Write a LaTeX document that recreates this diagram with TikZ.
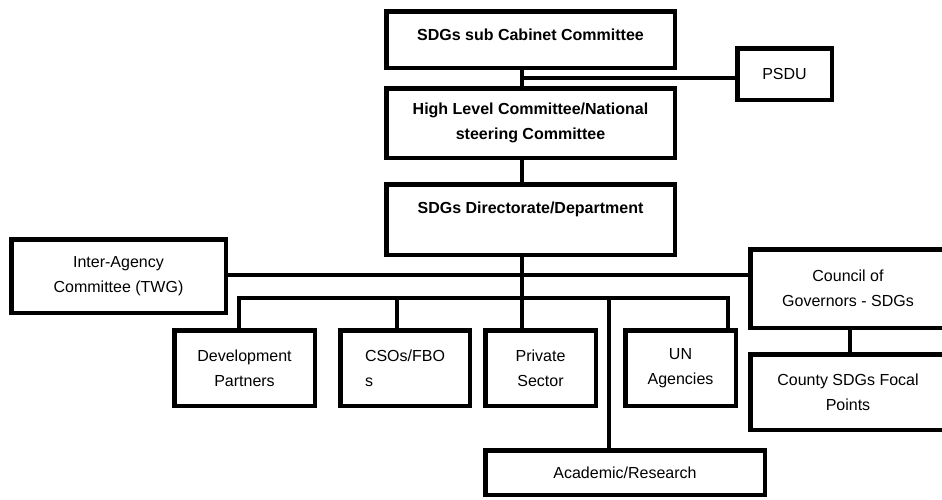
\documentclass[tikz,border=0pt]{standalone}
\usepackage{fontspec}
\setmainfont{Liberation Sans}
\begin{document}
\begin{tikzpicture}[x=1pt,y=-1pt,
  box/.style={draw, rectangle, line width=4.5pt, inner sep=0pt, align=center, fill=white,
    font=\fontsize{16}{25}\selectfont},
  hbox/.style={box, font=\fontsize{16}{25}\selectfont\bfseries},
  conn/.style={draw, line width=4.5pt, line join=miter}
]
\useasboundingbox (0,0) rectangle (942,499);
\clip (0,0) rectangle (942,499);

% boxes
\node[hbox, minimum width=288.5pt, minimum height=56.5pt, text height=12pt, text depth=9.6pt] (cab) at (530.5,39.5) {SDGs sub Cabinet Committee};
\node[box, minimum width=94.5pt, minimum height=51.5pt] (psdu) at (784.5,74) {PSDU};
\node[hbox, minimum width=288.5pt, minimum height=69.5pt] (hlc) at (530.5,123) {High Level Committee/National\\steering Committee};
\node[hbox, minimum width=288.5pt, minimum height=70.5pt, text height=12pt, text depth=24pt] (dir) at (530.5,219.5) {SDGs Directorate/Department};
\node[box, minimum width=214.5pt, minimum height=73.5pt] (iac) at (118.5,276) {Inter-Agency\\Committee (TWG)};
\node[box, minimum width=195.5pt, minimum height=78.5pt] (cog) at (848,288.5) {Council of\\Governors - SDGs};
\node[box, minimum width=195.5pt, minimum height=75.5pt] (cty) at (848,392) {County SDGs Focal\\Points};
\node[box, minimum width=140.5pt, minimum height=75.5pt] (dev) at (244.5,368) {Development\\Partners};
\node[box, minimum width=129.5pt, minimum height=75.5pt, align=left] (cso) at (405,368) {CSOs/FBO\\s};
\node[box, minimum width=110.5pt, minimum height=75.5pt] (prv) at (540.5,368) {Private\\Sector};
\node[box, minimum width=110.5pt, minimum height=75.5pt] (un) at (680.5,368) {UN\\Agencies};
\node[box, minimum width=279.5pt, minimum height=44.5pt] (aca) at (625,472.5) {Academic/Research};

% junction coordinates
\coordinate (sx) at (522,0);
\coordinate (jp) at (522,78);
\coordinate (jh) at (0,275);
\coordinate (bL) at (239,298);
\coordinate (bR) at (728,298);
\coordinate (bC) at (397,298);
\coordinate (bA) at (609,298);
\coordinate (cx) at (850,0);

% connectors
\path[conn] (cab.south -| sx) -- (hlc.north -| sx);
\path[conn] (jp) -- (jp -| psdu.west);
\path[conn] (hlc.south -| sx) -- (dir.north -| sx);
\path[conn] (dir.south -| sx) -- (prv.north -| sx);
\path[conn] (iac.east |- jh) -- (cog.west |- jh);
\path[conn] (dev.north -| bL) -- (bL) -- (bR) -- (un.north -| bR);
\path[conn] (bC) -- (cso.north -| bC);
\path[conn] (bA) -- (aca.north -| bA);
\path[conn] (cog.south -| cx) -- (cty.north -| cx);
\end{tikzpicture}
\end{document}
